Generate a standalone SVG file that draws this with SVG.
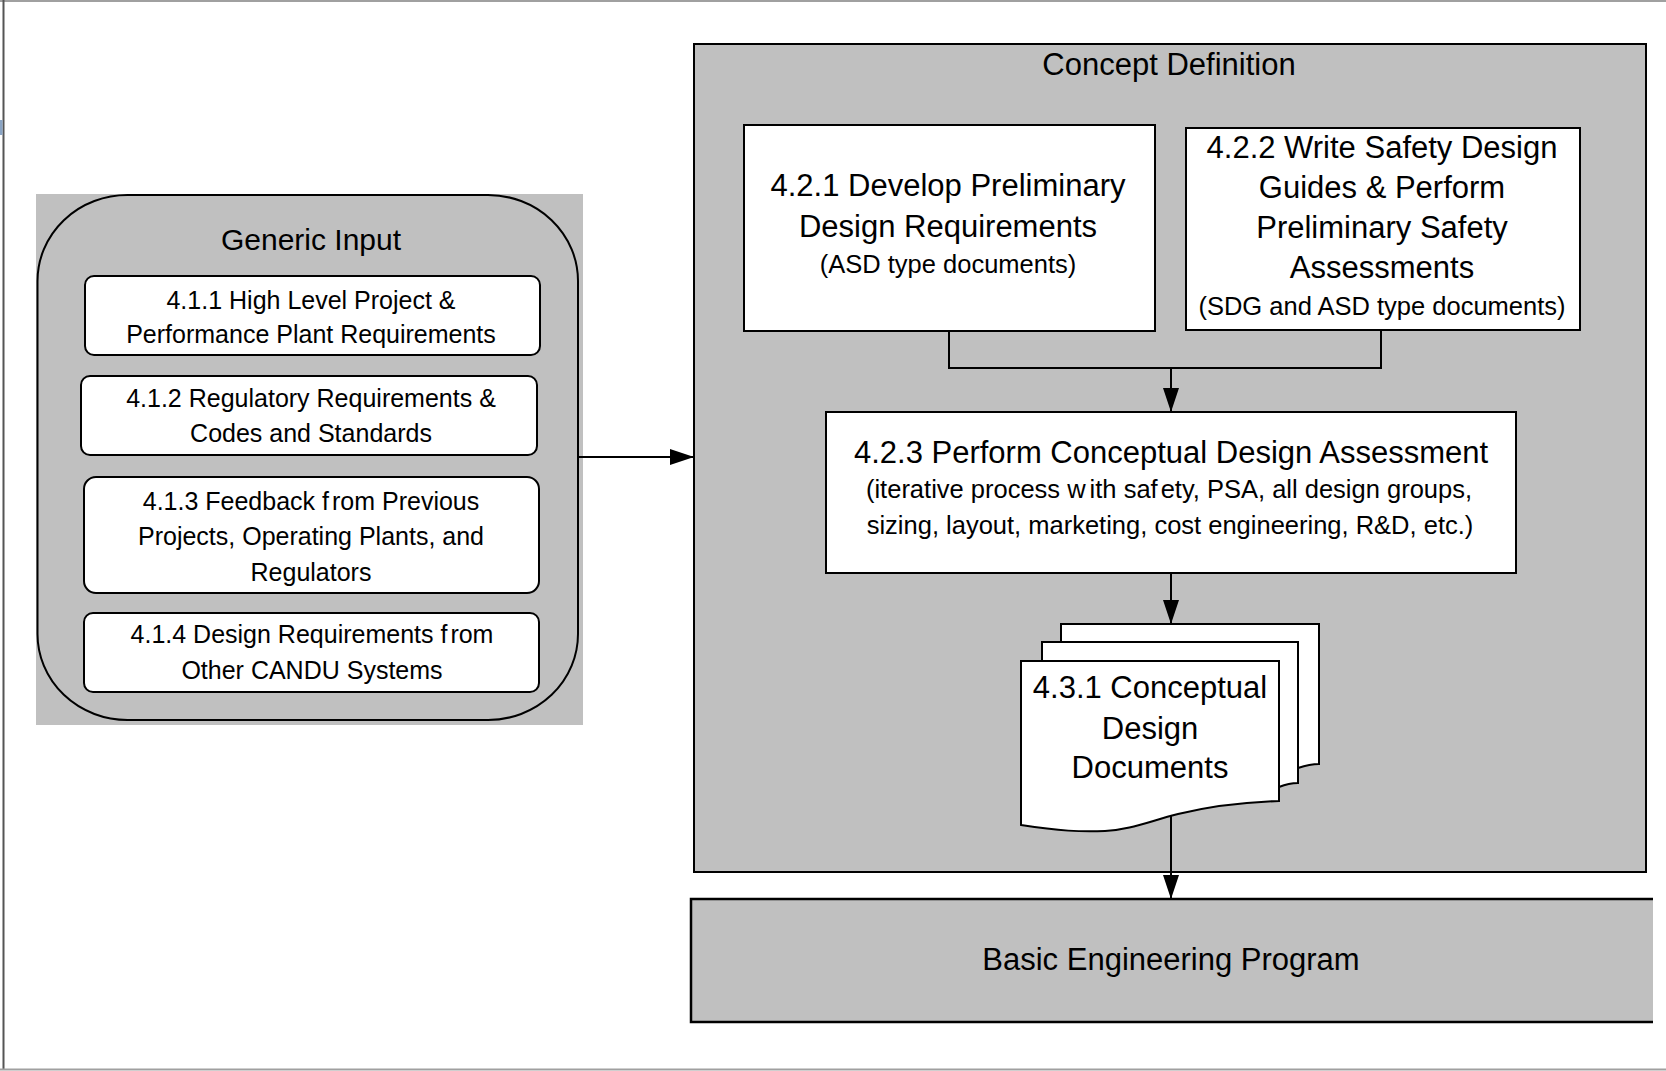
<svg xmlns="http://www.w3.org/2000/svg" width="1666" height="1071" viewBox="0 0 1666 1071">
  <style>
    .t { font-family: "Liberation Sans", Arial, sans-serif; fill: #000; text-anchor: middle; }
    .h { font-size: 31px; }
    .s { font-size: 25.5px; }
    .g { font-size: 25px; }
    .box { fill: #fff; stroke: #000; stroke-width: 2; }
    .panel { fill: #c0c0c0; stroke: #000; stroke-width: 2; }
    .wire { fill: none; stroke: #000; stroke-width: 2; }
  </style>
  <defs>
    <marker id="arrow" markerUnits="userSpaceOnUse" markerWidth="24" markerHeight="16" refX="24" refY="8" orient="auto">
      <path d="M0,0 L24,8 L0,16 z" fill="#000"/>
    </marker>
  </defs>

  <!-- page frame -->
  <rect x="0" y="0" width="1666" height="1071" fill="#fff"/>
  <g id="frame" fill="none">
    <line x1="0" y1="1" x2="1666" y2="1" stroke="#a0a0a0" stroke-width="2"/>
    <line x1="3.5" y1="0" x2="3.5" y2="1070" stroke="#555" stroke-width="2"/>
    <line x1="0" y1="1069.5" x2="1666" y2="1069.5" stroke="#a0a0a0" stroke-width="2"/>
    <rect x="0" y="120" width="2.5" height="15" fill="#8aa4c4"/>
  </g>

  <!-- Generic Input container -->
  <g id="generic-input">
    <rect x="36" y="194" width="547" height="531" fill="#c0c0c0"/>
    <rect x="37.5" y="195" width="540.5" height="525" rx="90" ry="86" fill="#c0c0c0" stroke="#000" stroke-width="2"/>
    <text class="t" x="311" y="250" font-size="30">Generic Input</text>
  </g>

  <g id="n411">
    <rect class="box" x="85" y="276" width="455" height="79" rx="9"/>
    <text class="t g" x="311" y="309">4.1.1 High Level Project &amp;</text>
    <text class="t g" x="311" y="343">Performance Plant Requirements</text>
  </g>

  <g id="n412">
    <rect class="box" x="81" y="376" width="456" height="79" rx="9"/>
    <text class="t g" x="311" y="407">4.1.2 Regulatory Requirements &amp;</text>
    <text class="t g" x="311" y="442">Codes and Standards</text>
  </g>

  <g id="n413">
    <rect class="box" x="84" y="477" width="455" height="116" rx="12"/>
    <text class="t g" x="311" y="510">4.1.3 Feedback f<tspan dx="3">rom</tspan> Previous</text>
    <text class="t g" x="311" y="545">Projects, Operating Plants, and</text>
    <text class="t g" x="311" y="581">Regulators</text>
  </g>

  <g id="n414">
    <rect class="box" x="84" y="613" width="455" height="79" rx="9"/>
    <text class="t g" x="312" y="643">4.1.4 Design Requirements f<tspan dx="3">rom</tspan></text>
    <text class="t g" x="312" y="679">Other CANDU Systems</text>
  </g>

  <!-- Concept Definition container -->
  <g id="concept-definition">
    <rect class="panel" x="694" y="44" width="952" height="828"/>
    <text class="t h" x="1169" y="75">Concept Definition</text>
  </g>

  <g id="n421">
    <rect class="box" x="744" y="125" width="411" height="206"/>
    <text class="t h" x="948" y="196">4.2.1 Develop Preliminary</text>
    <text class="t h" x="948" y="237">Design Requirements</text>
    <text class="t s" x="948" y="273">(ASD type documents)</text>
  </g>

  <g id="n422">
    <rect class="box" x="1186" y="128" width="394" height="202"/>
    <text class="t h" x="1382" y="158">4.2.2 Write Safety Design</text>
    <text class="t h" x="1382" y="198">Guides &amp; Perform</text>
    <text class="t h" x="1382" y="238">Preliminary Safety</text>
    <text class="t h" x="1382" y="278">Assessments</text>
    <text class="t s" x="1382" y="315">(SDG and ASD type documents)</text>
  </g>

  <g id="n423">
    <rect class="box" x="826" y="412" width="690" height="161"/>
    <text class="t h" x="1171" y="463">4.2.3 Perform Conceptual Design Assessment</text>
    <text class="t s" x="1169" y="498">(iterative process w<tspan dx="4">ith</tspan> saf<tspan dx="3">ety,</tspan> PSA, all design groups,</text>
    <text class="t s" x="1170" y="534">sizing, layout, marketing, cost engineering, R&amp;D, etc.)</text>
  </g>

  <!-- stacked document shape -->
  <g id="n431">
    <path class="box" d="M1061,624 H1319 V764 C1310,764 1304,766 1298,768 V642 H1061 Z"/>
    <path class="box" d="M1042,642 H1298 V783 C1290,783 1284,785 1279,787 V661 H1042 Z"/>
    <path class="box" d="M1021,661 H1279 V801 C1250,802 1215,805 1178,814 C1150,821 1130,830 1105,831 C1080,832 1060,831 1021,825 Z"/>
    <text class="t h" x="1150" y="698">4.3.1 Conceptual</text>
    <text class="t h" x="1150" y="739">Design</text>
    <text class="t h" x="1150" y="778">Documents</text>
  </g>

  <!-- Basic Engineering Program (runs off the right edge) -->
  <g id="basic-engineering">
    <rect x="691" y="899" width="962" height="123" fill="#c0c0c0"/>
    <path d="M1653,899 H691 V1022 H1653" fill="none" stroke="#000" stroke-width="2.5"/>
    <text class="t h" x="1171" y="970">Basic Engineering Program</text>
  </g>

  <!-- connectors -->
  <g id="connectors">
    <line class="wire" x1="578" y1="457" x2="694" y2="457" marker-end="url(#arrow)"/>
    <polyline class="wire" points="949,331 949,368 1381,368 1381,330"/>
    <line class="wire" x1="1171" y1="368" x2="1171" y2="412" marker-end="url(#arrow)"/>
    <line class="wire" x1="1171" y1="573" x2="1171" y2="624" marker-end="url(#arrow)"/>
    <line class="wire" x1="1171" y1="816" x2="1171" y2="899" marker-end="url(#arrow)"/>
  </g>
</svg>
